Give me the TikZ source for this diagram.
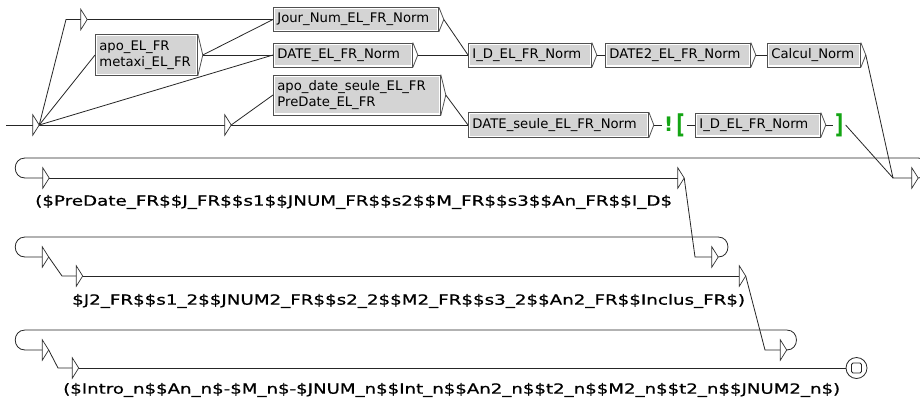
\documentclass[tikz,border=0pt]{standalone}
\usepackage{fontspec}
\newfontfamily\uf{DejaVu Sans}
\newfontfamily\ufo[FakeBold=0.6]{DejaVu Sans}
\definecolor{ctxgreen}{RGB}{20,165,20}
\definecolor{boxgray}{RGB}{212,212,212}
\definecolor{edgegray}{RGB}{80,80,80}
\newsavebox\fitbox
\newcommand\fitw[2]{\sbox\fitbox{#2}\pgfmathsetmacro\fitsx{#1/\the\wd\fitbox}\scalebox{\fitsx}[1]{\usebox\fitbox}}
\begin{document}
\begin{tikzpicture}[x=1pt,y=-1pt,
  conn/.style={draw=black!85, line width=0.8pt},
  box/.style={draw=edgegray, fill=white, line width=0.8pt, rectangle, inner xsep=4pt, inner ysep=0pt,
    minimum height=24pt, anchor=west, font=\uf\fontsize{13.2}{16}\selectfont, align=left,
    path picture={\fill[boxgray] ([shift={(1.6pt,-1.6pt)}]path picture bounding box.north west) rectangle ([shift={(-1.6pt,1.6pt)}]path picture bounding box.south east);}},
  tipline/.style={draw=edgegray, line width=0.8pt, line join=miter},
  etri/.style={minimum width=6pt, minimum height=20pt, inner sep=0pt, draw=none},
  tri/.style={draw=black!80, fill=white, line width=0.7pt, line join=miter},
  ctx/.style={inner xsep=2pt, inner ysep=0pt, anchor=west, text=ctxgreen, font=\uf\bfseries\fontsize{20}{24}\selectfont},
  outtxt/.style={inner sep=0pt, anchor=west, font=\ufo\fontsize{14}{16}\selectfont},
  final/.style={circle, draw=black!85, fill=white, line width=0.8pt, minimum size=21pt, inner sep=0pt}]
\useasboundingbox (0,0) rectangle (920,405);
\fill[white] (0,0) rectangle (920,405);
\clip (0,0) rectangle (920,405);

% boxes
\node[box, minimum height=41pt, text width=94pt] (apo) at (95,55) {apo\_EL\_FR\\metaxi\_EL\_FR};
\node[box, text width=157pt] (jour) at (273,19.5) {Jour\_Num\_EL\_FR\_Norm};
\node[box, text width=131pt] (dateel) at (273,55) {DATE\_EL\_FR\_Norm};
\node[box, minimum height=40pt, text width=159pt] (apods) at (273,95) {apo\_date\_seule\_EL\_FR\\PreDate\_EL\_FR};
\node[box, text width=115pt] (idnorm) at (468,55) {I\_D\_EL\_FR\_Norm};
\node[box, text width=137pt] (date2) at (605,55) {DATE2\_EL\_FR\_Norm};
\node[box, text width=85pt] (calcul) at (767,55) {Calcul\_Norm};
\node[box, minimum height=25pt, text width=172pt] (dateseule) at (468,125) {DATE\_seule\_EL\_FR\_Norm};
\node[box, text width=117pt] (idneg) at (695,125) {I\_D\_EL\_FR\_Norm};

\foreach \n in {apo,jour,dateel,apods,idnorm,date2,calcul,dateseule,idneg}{
  \draw[tipline] (\n.north east) -- ([xshift=5pt]\n.east) -- (\n.south east);
  \coordinate (\n-o) at ([xshift=5pt]\n.east);
}

% context marks
\node[ctx] (neg) at (662,125) {!\kern3pt\raisebox{-2pt}{\scalebox{0.9}[1.3]{[}}};
\node[ctx] (pos) at (833,125) {\raisebox{-2pt}{\scalebox{0.9}[1.3]{]}}};

% epsilon triangles
\node[etri] (init) at (36,125) {};
\node[etri] (e1) at (84,19.5) {};
\node[etri] (e2) at (228,125) {};
\node[etri] (r1) at (915,178) {};
\node[etri] (l1) at (46,178) {};
\node[etri] (o1) at (681,178) {};
\node[etri] (r2) at (715,257) {};
\node[etri] (l2) at (45.5,257) {};
\node[etri] (b2l) at (79.5,276) {};
\node[etri] (b2r) at (742.5,276) {};
\node[etri] (r3) at (783.5,350) {};
\node[etri] (l3) at (45.5,350) {};
\node[etri] (b3l) at (75.5,368) {};
\node[final] (fin) at (856.5,368) {};

% outputs
\node[outtxt] (t1) at (35,202) {\fitw{637}{(\$PreDate\_FR\$\$J\_FR\$\$s1\$\$JNUM\_FR\$\$s2\$\$M\_FR\$\$s3\$\$An\_FR\$\$I\_D\$}};
\node[outtxt] (t2) at (72,301) {\fitw{673}{\$J2\_FR\$\$s1\_2\$\$JNUM2\_FR\$\$s2\_2\$\$M2\_FR\$\$s3\_2\$\$An2\_FR\$\$Inclus\_FR\$)}};
\node[outtxt] (t3) at (63,390) {\fitw{777}{(\$Intro\_n\$\$An\_n\$-\$M\_n\$-\$JNUM\_n\$\$Int\_n\$\$An2\_n\$\$t2\_n\$\$M2\_n\$\$t2\_n\$\$JNUM2\_n\$)}};

% bend coordinates
\coordinate (start) at (6,125);
\coordinate (k1) at (66,19.5);
\coordinate (k2) at (893,178);
\coordinate (k3) at (695,257);
\coordinate (k4) at (62,276);
\coordinate (k5) at (765,350);
\coordinate (k6) at (58,368);
\coordinate (u1) at (25,158);
\coordinate (d1) at (25,178);
\coordinate (u2) at (25,237);
\coordinate (d2) at (25,257);
\coordinate (u3) at (25,330);
\coordinate (d3) at (25,350);

% connectors
\draw[conn] (start) -- (init.west);
\draw[conn] (init.east) -- (k1) -- (e1.west);
\draw[conn] (e1.east) -- (jour.west);
\draw[conn] (init.east) -- (apo.west);
\draw[conn] (init.east) -- (dateel.west);
\draw[conn] (init.east) -- (e2.west);
\draw[conn] (apo-o) -- (jour.west);
\draw[conn] (apo-o) -- (dateel.west);
\draw[conn] (e2.east) -- (apods.west);
\draw[conn] (e2.east) -- (dateseule.west);
\draw[conn] (jour-o) -- (idnorm.west);
\draw[conn] (dateel-o) -- (idnorm.west);
\draw[conn] (apods-o) -- (dateseule.west);
\draw[conn] (idnorm-o) -- (date2.west);
\draw[conn] (date2-o) -- (calcul.west);
\draw[conn] (calcul-o) -- (k2) -- (r1.west);
\draw[conn] (dateseule-o) -- (neg.west);
\draw[conn] (neg.east) -- (idneg.west);
\draw[conn] (idneg-o) -- (pos.west);
\draw[conn] (pos.east) -- (k2);
\draw[conn] (r1.east) .. controls +(13,0) and +(13,0) .. ([yshift=20pt]r1.east) -- (u1) .. controls +(-13,0) and +(-13,0) .. (d1) -- (l1.west);
\draw[conn] (l1.east) -- (o1.west);
\draw[conn] (o1.east) -- (k3) -- (r2.west);
\draw[conn] (r2.east) .. controls +(13,0) and +(13,0) .. ([yshift=20pt]r2.east) -- (u2) .. controls +(-13,0) and +(-13,0) .. (d2) -- (l2.west);
\draw[conn] (l2.east) -- (k4) -- (b2l.west);
\draw[conn] (b2l.east) -- (b2r.west);
\draw[conn] (b2r.east) -- (k5) -- (r3.west);
\draw[conn] (r3.east) .. controls +(13,0) and +(13,0) .. ([yshift=20pt]r3.east) -- (u3) .. controls +(-13,0) and +(-13,0) .. (d3) -- (l3.west);
\draw[conn] (l3.east) -- (k6) -- (b3l.west);
\draw[conn] (b3l.east) -- (fin.west);

% triangles on top
\foreach \n in {init,e1,e2,r1,l1,o1,r2,l2,b2l,b2r,r3,l3,b3l}{
  \draw[tri] (\n.north west) -- (\n.east) -- (\n.south west) -- cycle;
}
\draw[black!85, line width=0.8pt, rounded corners=1.5pt] ([shift={(-5pt,-5pt)}]fin.center) rectangle ([shift={(5pt,5pt)}]fin.center);
\end{tikzpicture}
\end{document}
